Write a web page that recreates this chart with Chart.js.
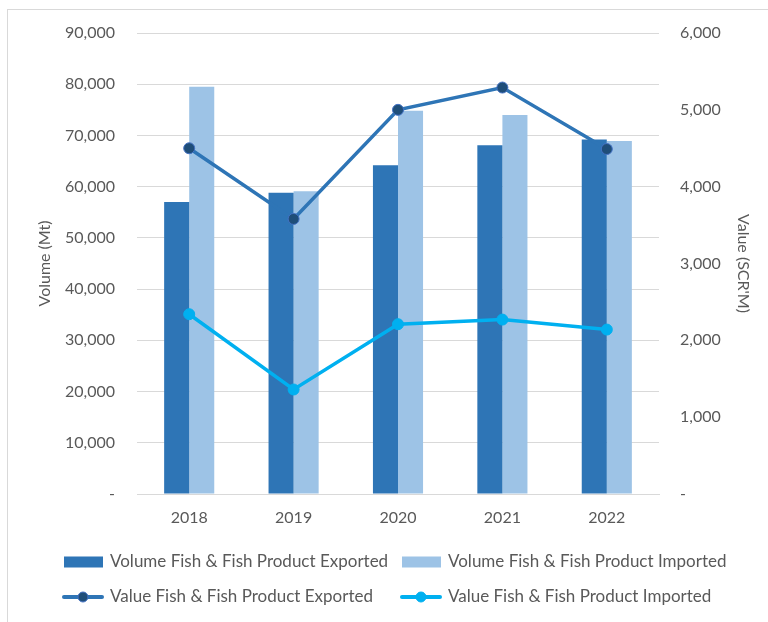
<!DOCTYPE html>
<html>
<head>
<meta charset="utf-8">
<title>Fish & Fish Product Trade</title>
<script src="https://cdn.jsdelivr.net/npm/chart.js@4.4.1/dist/chart.umd.min.js"></script>
<style>
	html, body { margin: 0; padding: 0; background: #ffffff; overflow: hidden; }
	#frame {
		position: absolute; left: 7px; top: 9px;
		width: 800px; height: 700px;
		border: 1px solid #d9d9d9;
	}
	#myChart { position: absolute; left: 0; top: 0; }
</style>
</head>
<body>
<div id="frame"></div>
<canvas id="myChart" width="768" height="622"></canvas>
<script>
"use strict";

const years = ["2018", "2019", "2020", "2021", "2022"];

// tonnes
const volumeExported = [57000, 58800, 64200, 68100, 69200];
const volumeImported = [79500, 59100, 74800, 74000, 68900];

// SCR millions
const valueExported = [4500, 3580, 5000, 5290, 4490];
const valueImported = [2340, 1360, 2210, 2270, 2140];

const volumeMax = 90000;
const volumeStep = 10000;
const valueMax = 6000;
const valueStep = 1000;

const textColor = "#595959";
const fontFamily = "Lato, 'Open Sans', sans-serif";

function formatTick(value) {
	if (value === 0) {
		return "-";
	}
	return value.toLocaleString("en-US");
}

// two-column legend drawn under the axis
const gridLegend = {
	id: "gridLegend",
	afterDraw(chart) {
		const ctx = chart.ctx;
		const cols = [62, 400];
		const rows = [562, 597];

		chart.data.datasets.forEach(function (ds, i) {
			const x = cols[i % 2];
			const y = rows[Math.floor(i / 2)];
			ctx.save();
			if (ds.type === "line") {
				ctx.strokeStyle = ds.borderColor;
				ctx.lineWidth = 4;
				ctx.lineCap = "round";
				ctx.beginPath();
				ctx.moveTo(x + 2, y);
				ctx.lineTo(x + 40, y);
				ctx.stroke();
				ctx.beginPath();
				ctx.arc(x + 21, y, 5, 0, Math.PI * 2);
				ctx.fillStyle = ds.pointBackgroundColor;
				ctx.fill();
				ctx.lineWidth = 1;
				ctx.strokeStyle = ds.pointBorderColor;
				ctx.stroke();
			} else {
				ctx.fillStyle = ds.backgroundColor;
				ctx.fillRect(x + 2, y - 5.5, 39, 11);
			}
			ctx.fillStyle = textColor;
			ctx.font = "17px " + fontFamily;
			ctx.textAlign = "left";
			ctx.textBaseline = "middle";
			ctx.fillText(ds.label, x + 48, y);
			ctx.restore();
		});
	},
};

function generateTradeChart() {
	const ctx = document.getElementById("myChart");

	new Chart(ctx, {
		type: "bar",
		data: {
			labels: years,
			datasets: [
				{
					type: "bar",
					label: "Volume Fish & Fish Product Exported",
					data: volumeExported,
					backgroundColor: "#2e75b6",
					yAxisID: "y",
					order: 2,
				},
				{
					type: "bar",
					label: "Volume Fish & Fish Product Imported",
					data: volumeImported,
					backgroundColor: "#9dc3e6",
					yAxisID: "y",
					order: 2,
				},
				{
					type: "line",
					label: "Value Fish & Fish Product Exported",
					data: valueExported,
					borderColor: "#2e75b6",
					borderWidth: 3.5,
					pointRadius: 5.5,
					pointBackgroundColor: "#1f4e79",
					pointBorderColor: "#4472c4",
					pointBorderWidth: 1,
					tension: 0,
					yAxisID: "y1",
					order: 1,
				},
				{
					type: "line",
					label: "Value Fish & Fish Product Imported",
					data: valueImported,
					borderColor: "#00b0f0",
					borderWidth: 3.5,
					pointRadius: 5.5,
					pointBackgroundColor: "#00b0f0",
					pointBorderColor: "#00b0f0",
					pointBorderWidth: 1,
					tension: 0,
					yAxisID: "y1",
					order: 1,
				},
			],
		},
		options: {
			responsive: false,
			animation: false,
			categoryPercentage: 0.48,
			barPercentage: 1.0,
			layout: {
				padding: { top: 33, left: 0, right: 0, bottom: 0 },
			},
			plugins: {
				legend: { display: false },
				tooltip: { enabled: false },
			},
			scales: {
				x: {
					grid: { display: false, drawTicks: false },
					border: { display: true, color: "#d9d9d9", width: 1 },
					ticks: {
						color: textColor,
						font: { family: fontFamily, size: 16 },
						padding: 14,
					},
					afterFit(scale) {
						scale.height = 128;
					},
				},
				y: {
					position: "left",
					min: 0,
					max: volumeMax,
					grid: { color: "#d9d9d9", lineWidth: 1, drawTicks: false },
					border: { display: false },
					ticks: {
						stepSize: volumeStep,
						color: textColor,
						font: { family: fontFamily, size: 16 },
						padding: 22,
						callback: formatTick,
					},
					title: {
						display: true,
						text: "Volume (Mt)",
						color: textColor,
						font: { family: fontFamily, size: 16 },
						padding: { top: 35, bottom: 0 },
					},
					afterFit(scale) {
						scale.width = 137;
					},
				},
				y1: {
					position: "right",
					min: 0,
					max: valueMax,
					grid: { display: false, drawOnChartArea: false, drawTicks: false },
					border: { display: false },
					ticks: {
						stepSize: valueStep,
						color: textColor,
						font: { family: fontFamily, size: 16 },
						padding: 21,
						callback: formatTick,
					},
					title: {
						display: true,
						text: "Value (SCR'M)",
						color: textColor,
						font: { family: fontFamily, size: 16 },
						padding: { top: 15, bottom: 0 },
					},
					afterFit(scale) {
						scale.width = 109;
					},
				},
			},
		},
		plugins: [gridLegend],
	});
}

generateTradeChart();
</script>
</body>
</html>
